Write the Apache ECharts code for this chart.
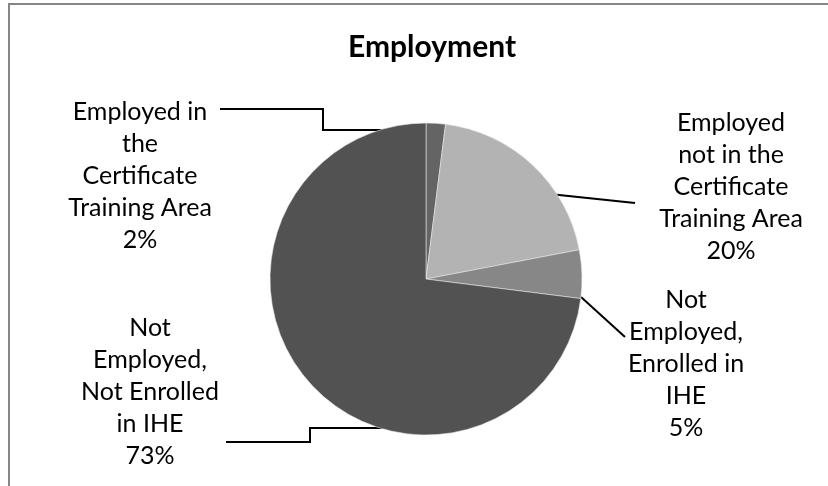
<!DOCTYPE html>
<html>
<head>
<meta charset="utf-8">
<script src="https://cdn.jsdelivr.net/npm/echarts@6/dist/echarts.min.js"></script>
<style>
  html, body { margin: 0; padding: 0; background: #fff; }
  #chart { width: 828px; height: 486px; }
</style>
</head>
<body>
<div id="chart"></div>
<script>
// Employment outcome categories (line breaks as shown in the labels)
const categories = [
  'Employed in\nthe\nCertificate\nTraining Area',
  'Employed\nnot in the\nCertificate\nTraining Area',
  'Not\nEmployed,\nEnrolled in\nIHE',
  'Not\nEmployed,\nNot Enrolled\nin IHE'
];
// Share of completers, percent
const shares = [2, 20, 5, 73];
const sliceColors = ['#646464', '#b3b3b3', '#878787', '#525252'];

// Label placement and leader lines for each slice
const labelSpots = [
  { x: 140, y: 176, line: [[428, 130], [323, 130], [323, 109], [220, 109]] },
  { x: 731, y: 187, line: [[540, 193], [635, 203]] },
  { x: 686, y: 364, line: [[581, 297], [625, 337]] },
  { x: 150, y: 392, line: [[395, 428], [310, 428], [310, 442], [226, 442]] }
];

const chart = echarts.init(document.getElementById('chart'), null, { renderer: 'canvas' });

chart.setOption({
  animation: false,
  backgroundColor: '#ffffff',
  title: {
    text: 'Employment',
    left: 427,
    top: 27,
    textAlign: 'center',
    textStyle: { fontFamily: 'Lato', fontWeight: 'bold', fontSize: 30, color: '#000' }
  },
  graphic: [
    {
      type: 'polyline',
      shape: { points: [[9, 490], [9, 4], [830, 4]] },
      style: { stroke: '#868686', lineWidth: 2, fill: null },
      silent: true
    }
  ],
  series: [{
    type: 'pie',
    center: [426, 279],
    radius: 156,
    startAngle: 90,
    clockwise: true,
    avoidLabelOverlap: false,
    data: categories.map((name, i) => ({
      name: name,
      value: shares[i],
      itemStyle: { color: sliceColors[i] }
    })),
    itemStyle: { borderColor: '#e6e6e6', borderWidth: 0.6 },
    label: {
      show: true,
      position: 'outside',
      formatter: p => p.name + '\n' + Math.round(p.percent) + '%',
      fontFamily: 'Lato',
      fontSize: 25,
      lineHeight: 32,
      color: '#000',
      align: 'center'
    },
    labelLine: {
      show: true,
      lineStyle: { color: '#000', width: 2 }
    },
    labelLayout: params => {
      const s = labelSpots[params.dataIndex];
      return {
        x: s.x,
        y: s.y,
        align: 'center',
        verticalAlign: 'middle',
        labelLinePoints: s.line
      };
    },
    emphasis: { disabled: true }
  }]
});
</script>
</body>
</html>
